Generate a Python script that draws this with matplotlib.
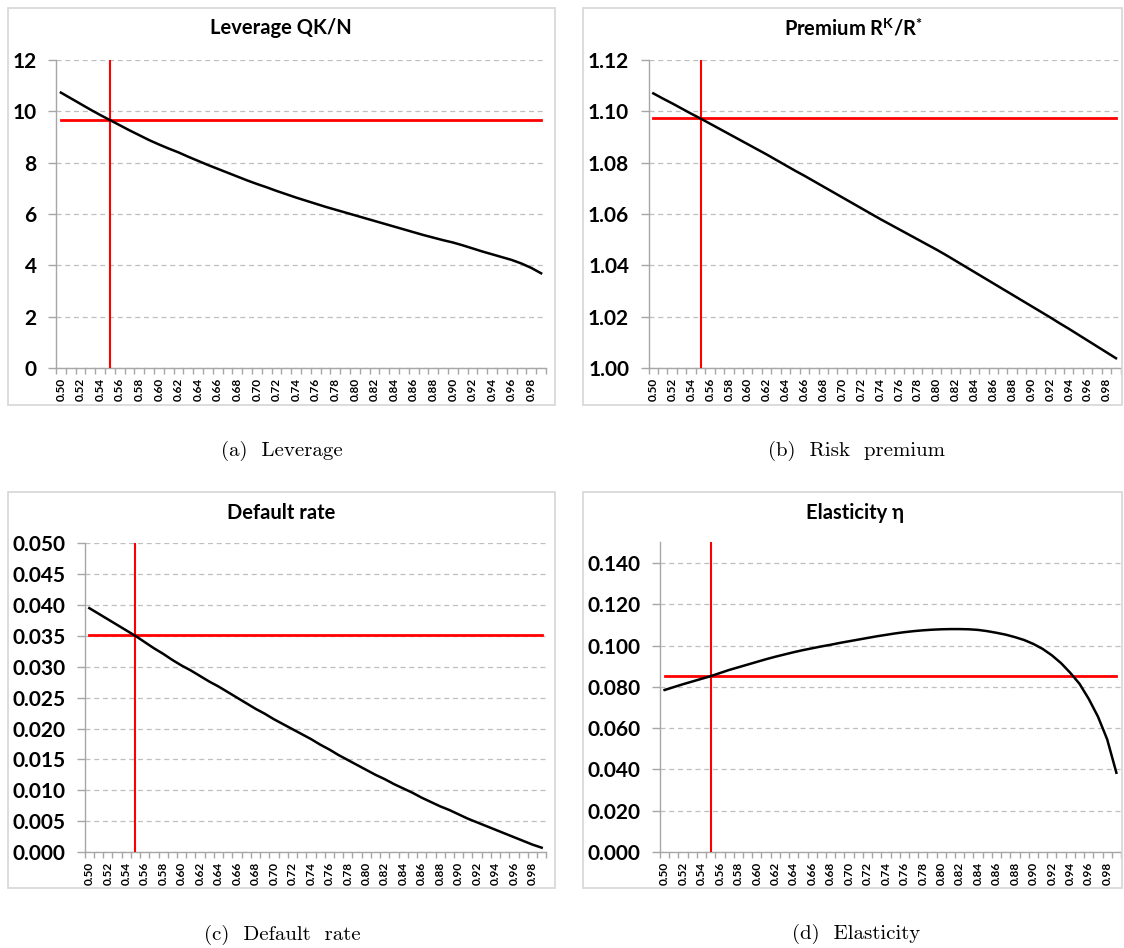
import matplotlib
matplotlib.use("Agg")
import matplotlib.pyplot as plt
from matplotlib.patches import Rectangle
from matplotlib.ticker import FixedLocator, FormatStrFormatter

plt.rcParams["font.family"] = ["Lato", "DejaVu Sans"]
plt.rcParams["font.weight"] = "bold"
plt.rcParams["mathtext.fontset"] = "custom"
plt.rcParams["mathtext.rm"] = "Lato:bold"
plt.rcParams["mathtext.it"] = "Lato:bold"
plt.rcParams["mathtext.bf"] = "Lato:bold"

# Parameter grid (category axis) and calibrated value
gamma = [0.50, 0.51, 0.52, 0.53, 0.54, 0.55, 0.56, 0.57, 0.58, 0.59,
         0.60, 0.61, 0.62, 0.63, 0.64, 0.65, 0.66, 0.67, 0.68, 0.69,
         0.70, 0.71, 0.72, 0.73, 0.74, 0.75, 0.76, 0.77, 0.78, 0.79,
         0.80, 0.81, 0.82, 0.83, 0.84, 0.85, 0.86, 0.87, 0.88, 0.89,
         0.90, 0.91, 0.92, 0.93, 0.94, 0.95, 0.96, 0.97, 0.98, 0.99]
gamma_baseline = 0.55

leverage = [10.73, 10.51, 10.29, 10.07, 9.86, 9.66, 9.46, 9.26, 9.07, 8.88,
            8.71, 8.55, 8.40, 8.23, 8.07, 7.91, 7.76, 7.61, 7.46, 7.31,
            7.17, 7.04, 6.90, 6.77, 6.64, 6.52, 6.40, 6.28, 6.17, 6.06,
            5.95, 5.84, 5.73, 5.62, 5.51, 5.40, 5.29, 5.18, 5.08, 4.98,
            4.89, 4.78, 4.66, 4.54, 4.43, 4.32, 4.21, 4.07, 3.90, 3.69]

premium = [1.1070, 1.1050, 1.1031, 1.1011, 1.0991, 1.0972, 1.0952, 1.0932, 1.0912, 1.0892,
           1.0872, 1.0852, 1.0832, 1.0811, 1.0790, 1.0769, 1.0749, 1.0728, 1.0707, 1.0686,
           1.0665, 1.0644, 1.0623, 1.0602, 1.0581, 1.0561, 1.0541, 1.0521, 1.0501, 1.0481,
           1.0461, 1.0440, 1.0418, 1.0396, 1.0374, 1.0352, 1.0330, 1.0308, 1.0286, 1.0264,
           1.0242, 1.0220, 1.0198, 1.0175, 1.0153, 1.0130, 1.0107, 1.0084, 1.0061, 1.0038]

default_rate = [0.0395, 0.0386, 0.0377, 0.0368, 0.0359, 0.0350, 0.0340, 0.0330, 0.0321, 0.0311,
                0.0302, 0.0294, 0.0285, 0.0276, 0.0268, 0.0259, 0.0250, 0.0241, 0.0232, 0.0224,
                0.0215, 0.0207, 0.0199, 0.0191, 0.0183, 0.0174, 0.0166, 0.0157, 0.0149, 0.0141,
                0.0133, 0.0125, 0.0118, 0.0110, 0.0103, 0.0096, 0.0088, 0.0081, 0.0074, 0.0068,
                0.0061, 0.0054, 0.0048, 0.0042, 0.0036, 0.0030, 0.0024, 0.0018, 0.0012, 0.0007]

elasticity = [0.0785, 0.0799, 0.0813, 0.0826, 0.0839, 0.0852, 0.0867, 0.0882, 0.0895, 0.0908,
              0.0921, 0.0934, 0.0946, 0.0957, 0.0968, 0.0978, 0.0987, 0.0996, 0.1004, 0.1013,
              0.1021, 0.1029, 0.1037, 0.1045, 0.1052, 0.1059, 0.1065, 0.1070, 0.1074, 0.1077,
              0.1079, 0.1080, 0.1080, 0.1079, 0.1076, 0.1070, 0.1062, 0.1053, 0.1041, 0.1027,
              0.1008, 0.0984, 0.0953, 0.0915, 0.0868, 0.0815, 0.0742, 0.0656, 0.0546, 0.0384]

# Steady-state values at the calibrated parameter
leverage_ss = 9.66
premium_ss = 1.0975
default_ss = 0.0352
elasticity_ss = 0.0852

titles = ["Leverage QK/N", r"Premium R$^{\mathrm{K}}$/R$^{*}$", "Default rate", "Elasticity η"]
captions = ["(a)  Leverage", "(b)  Risk  premium", "(c)  Default  rate", "(d)  Elasticity"]

W, H = 1124, 948
fig = plt.figure(figsize=(W / 100, H / 100), dpi=100)

GRID = "#bfbfbf"
AXIS = "#a6a6a6"
RED = "#ff0000"


def draw_panel(plot_px, frame_px, title_xy, caption_xy, title, caption,
               values, ss, ylim, yticks, yfmt):
    x0, y0, x1, y1 = plot_px
    ax = fig.add_axes([x0 / W, 1 - y1 / H, (x1 - x0) / W, (y1 - y0) / H])
    idx = list(range(len(gamma)))
    ax.plot(idx, values, color="black", lw=1.8, zorder=4)
    ax.plot(idx, [ss] * len(gamma), color=RED, lw=2.0, zorder=3)
    ax.axvline(gamma.index(gamma_baseline), color=RED, lw=1.5, zorder=3)

    ax.set_xlim(-0.5, len(gamma) - 0.5)
    ax.set_ylim(*ylim)
    ax.set_facecolor("none")

    ax.yaxis.set_major_locator(FixedLocator(yticks))
    ax.yaxis.set_major_formatter(FormatStrFormatter(yfmt))
    ax.yaxis.grid(True, color=GRID, linestyle=(0, (4, 3)), lw=0.9)
    ax.set_axisbelow(True)
    ax.tick_params(axis="y", direction="out", length=6, width=1, color=AXIS,
                   labelsize=15, pad=8)

    major = idx[::2]
    ax.xaxis.set_major_locator(FixedLocator(major))
    ax.set_xticklabels(["%.2f" % gamma[i] for i in major], rotation=90)
    ax.xaxis.set_minor_locator(FixedLocator([i - 0.5 for i in idx] + [len(gamma) - 0.5]))
    ax.tick_params(axis="x", which="major", length=0, labelsize=8.5, pad=7)
    ax.tick_params(axis="x", which="minor", direction="out", length=4,
                   width=1, color=AXIS)

    for side in ("top", "right"):
        ax.spines[side].set_visible(False)
    for side in ("left", "bottom"):
        ax.spines[side].set_color(AXIS)
        ax.spines[side].set_linewidth(1.0)

    fx0, fy0, fx1, fy1 = frame_px
    fig.add_artist(Rectangle((fx0 / W, 1 - fy1 / H), (fx1 - fx0) / W, (fy1 - fy0) / H,
                             transform=fig.transFigure, fill=False,
                             edgecolor="#d9d9d9", lw=1.3))
    fig.text(title_xy[0] / W, 1 - title_xy[1] / H, title, ha="center", va="center",
             fontsize=14.5, fontweight="bold")
    fig.text(caption_xy[0] / W, 1 - caption_xy[1] / H, caption, ha="center",
             va="center", family="cmr10", fontweight="normal", fontsize=15)
    return ax


draw_panel((56, 60, 546, 368), (8, 7.5, 555, 405), (281, 28), (282, 451),
           titles[0], captions[0], leverage, leverage_ss,
           (0, 12), [0, 2, 4, 6, 8, 10, 12], "%d")
draw_panel((648.6, 60, 1120.7, 368), (583, 7.5, 1122, 405), (853, 28), (857, 451),
           titles[1], captions[1], premium, premium_ss,
           (1.00, 1.12), [1.00, 1.02, 1.04, 1.06, 1.08, 1.10, 1.12], "%.2f")
draw_panel((84.7, 543.3, 546.3, 852), (8, 491.7, 555, 888), (281, 513), (282, 935),
           titles[2], captions[2], default_rate, default_ss,
           (0, 0.05), [0.000, 0.005, 0.010, 0.015, 0.020, 0.025, 0.030, 0.035, 0.040,
                       0.045, 0.050], "%.3f")
draw_panel((660, 542.4, 1121, 852), (583, 491.7, 1122, 888), (855, 513), (856, 934),
           titles[3], captions[3], elasticity, elasticity_ss,
           (0, 0.15), [0.000, 0.020, 0.040, 0.060, 0.080, 0.100, 0.120, 0.140], "%.3f")

fig.savefig("out.png", dpi=100)
